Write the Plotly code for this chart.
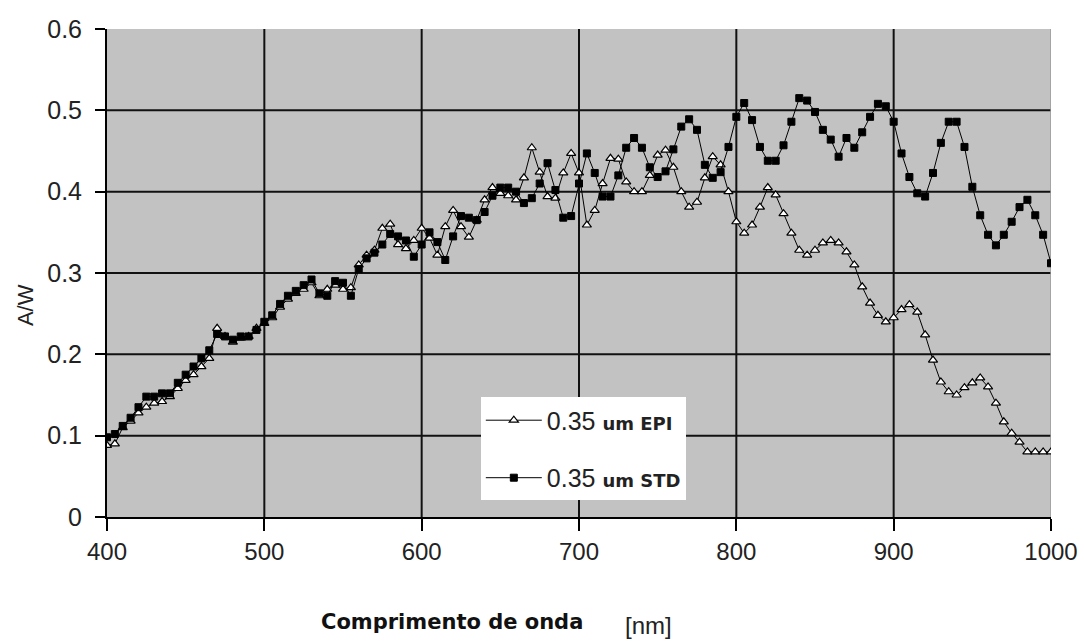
import plotly.graph_objects as go

# Wavelength grid (nm), 5 nm steps
wavelength = list(range(400, 1001, 5))

# Responsivity (A/W) for the epitaxial 0.35 um process
resp_epi = [
    0.088, 0.090, 0.110, 0.118, 0.128, 0.135, 0.140, 0.142, 0.148, 0.158,
    0.168, 0.175, 0.185, 0.195, 0.232, 0.222, 0.215, 0.220, 0.222, 0.232,
    0.238, 0.245, 0.258, 0.268, 0.275, 0.280, 0.288, 0.272, 0.280, 0.285,
    0.280, 0.282, 0.310, 0.322, 0.328, 0.355, 0.360, 0.335, 0.330, 0.340,
    0.355, 0.343, 0.322, 0.357, 0.377, 0.357, 0.344, 0.365, 0.390, 0.405,
    0.398, 0.395, 0.390, 0.417, 0.454, 0.424, 0.394, 0.392, 0.423, 0.447,
    0.423, 0.359, 0.377, 0.410, 0.441, 0.440, 0.412, 0.400, 0.400, 0.420,
    0.445, 0.451, 0.430, 0.400, 0.381, 0.387, 0.417, 0.443, 0.433, 0.400,
    0.363, 0.349, 0.359, 0.381, 0.405, 0.396, 0.373, 0.349, 0.328, 0.322,
    0.328, 0.337, 0.340, 0.337, 0.326, 0.310, 0.283, 0.263, 0.248, 0.240,
    0.245, 0.255, 0.261, 0.252, 0.224, 0.193, 0.166, 0.154, 0.150, 0.159,
    0.165, 0.171, 0.160, 0.140, 0.117, 0.103, 0.092, 0.080, 0.080, 0.080,
    0.080,
]

# Responsivity (A/W) for the standard 0.35 um process
resp_std = [
    0.098, 0.102, 0.112, 0.122, 0.135, 0.148, 0.148, 0.152, 0.152, 0.165,
    0.175, 0.185, 0.195, 0.205, 0.225, 0.222, 0.218, 0.222, 0.222, 0.230,
    0.240, 0.248, 0.262, 0.272, 0.278, 0.285, 0.292, 0.275, 0.272, 0.290,
    0.288, 0.272, 0.305, 0.318, 0.325, 0.335, 0.348, 0.345, 0.340, 0.320,
    0.335, 0.350, 0.338, 0.316, 0.345, 0.370, 0.368, 0.365, 0.375, 0.395,
    0.405, 0.405, 0.400, 0.386, 0.392, 0.410, 0.435, 0.402, 0.368, 0.370,
    0.410, 0.447, 0.423, 0.394, 0.394, 0.420, 0.454, 0.466, 0.454, 0.430,
    0.418, 0.425, 0.452, 0.480, 0.489, 0.476, 0.433, 0.417, 0.424, 0.455,
    0.492, 0.509, 0.488, 0.455, 0.438, 0.438, 0.457, 0.486, 0.515, 0.512,
    0.498, 0.476, 0.464, 0.443, 0.466, 0.454, 0.473, 0.492, 0.508, 0.505,
    0.486, 0.447, 0.418, 0.398, 0.394, 0.423, 0.460, 0.486, 0.486, 0.455,
    0.406, 0.371, 0.347, 0.334, 0.347, 0.363, 0.381, 0.390, 0.371, 0.347,
    0.312,
]

x_ticks = [400, 500, 600, 700, 800, 900, 1000]
y_ticks = [0, 0.1, 0.2, 0.3, 0.4, 0.5, 0.6]
y_tick_text = ["0", "0.1", "0.2", "0.3", "0.4", "0.5", "0.6"]

FONT = "Liberation Sans, Arial, sans-serif"
BOLD_FONT = "DejaVu Sans, Verdana, sans-serif"

series_names = [
    "0.35 <span style='font-size:18px;font-family:DejaVu Sans'><b>um EPI</b></span>",
    "0.35 <span style='font-size:18px;font-family:DejaVu Sans'><b>um STD</b></span>",
]

fig = go.Figure()
fig.add_trace(go.Scatter(
    x=wavelength, y=resp_epi, name=series_names[0], mode="lines+markers",
    line=dict(color="black", width=1),
    marker=dict(symbol="triangle-up", size=8, color="white",
                line=dict(color="black", width=1.2)),
    legendgroup="epi",
))
fig.add_trace(go.Scatter(
    x=wavelength, y=resp_std, name=series_names[1], mode="lines+markers",
    line=dict(color="black", width=1),
    marker=dict(symbol="square", size=7, color="black",
                line=dict(color="black", width=1)),
    legendgroup="std",
))

# Interior grid lines (the frame edges stay without a dark line)
shapes = []
for v in y_ticks[1:-1]:
    shapes.append(dict(type="line", xref="paper", x0=0, x1=1, yref="y",
                       y0=v, y1=v, line=dict(color="#111", width=2),
                       layer="below"))
for v in x_ticks[1:-1]:
    shapes.append(dict(type="line", yref="paper", y0=0, y1=1, xref="x",
                       x0=v, x1=v, line=dict(color="#111", width=2),
                       layer="below"))
# light right-hand frame edge
shapes.append(dict(type="line", yref="paper", y0=0, y1=1, xref="x",
                   x0=x_ticks[-1], x1=x_ticks[-1],
                   line=dict(color="#9a9a9a", width=1.5), layer="below"))

fig.update_layout(
    width=1084, height=641,
    margin=dict(l=107, r=33, t=29, b=124),
    paper_bgcolor="white",
    plot_bgcolor="#c2c2c2",
    font=dict(family=FONT, color="#222", size=24),
    shapes=shapes,
    showlegend=True,
    legend=dict(
        x=0.396, y=0.245, xanchor="left", yanchor="top",
        bgcolor="white", borderwidth=0,
        font=dict(family=FONT, size=25, color="#222"),
        tracegroupgap=22, itemwidth=56,
    ),
    annotations=[
        dict(text="A/W", xref="paper", yref="paper",
             x=-0.087, y=0.434, xanchor="center", yanchor="middle",
             textangle=-90, showarrow=False,
             font=dict(family=FONT, size=22, color="#222")),
        dict(text="<b>Comprimento de onda</b>", xref="paper", yref="paper",
             x=0.225, y=-0.215, xanchor="left", yanchor="middle",
             showarrow=False,
             font=dict(family=BOLD_FONT, size=21, color="#111")),
        dict(text="[nm]", xref="paper", yref="paper",
             x=0.547, y=-0.222, xanchor="left", yanchor="middle",
             showarrow=False, font=dict(family=FONT, size=24, color="#222")),
    ],
)

fig.update_xaxes(
    range=[400, 1000], tickvals=x_ticks, showgrid=False,
    showline=True, linecolor="black", linewidth=2,
    ticks="outside", ticklen=12, tickwidth=1.5, tickcolor="black",
    zeroline=False, tickfont=dict(size=24), automargin=False,
)
fig.update_yaxes(
    range=[0, 0.6], tickvals=y_ticks, ticktext=y_tick_text, showgrid=False,
    showline=True, linecolor="black", linewidth=2,
    ticks="outside", ticklen=10, tickwidth=1.5, tickcolor="black",
    zeroline=False, tickfont=dict(size=25), automargin=False,
    ticklabelstandoff=8,
)

fig.write_html("out.html")
